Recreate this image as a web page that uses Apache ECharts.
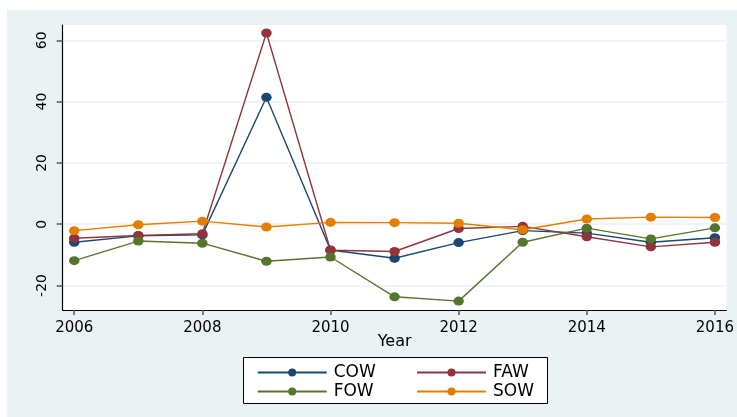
<!DOCTYPE html>
<html>
<head>
<meta charset="utf-8">
<title>Year trends</title>
<script src="https://cdn.jsdelivr.net/npm/echarts@6/dist/echarts.min.js"></script>
<style>
  html, body { margin: 0; padding: 0; background: #ffffff; }
  #main { width: 737px; height: 417px; }
</style>
</head>
<body>
<div id="main"></div>
<script>
// data
var years = [2006, 2007, 2008, 2009, 2010, 2011, 2012, 2013, 2014, 2015, 2016];
var cow = [-5.9, -3.8, -3.5, 41.4, -8.4, -11.1, -6.0, -2.1, -2.9, -5.9, -4.4];
var faw = [-4.6, -3.7, -3.1, 62.4, -8.5, -8.9, -1.4, -0.7, -4.1, -7.4, -5.9];
var fow = [-11.9, -5.5, -6.2, -12.1, -10.7, -23.7, -25.1, -5.9, -1.3, -4.8, -1.2];
var sow = [-2.1, -0.2, 1.0, -0.9, 0.6, 0.5, 0.3, -1.8, 1.7, 2.3, 2.2];
var xTicks = [2006, 2008, 2010, 2012, 2014, 2016];
var yTicks = [-20, 0, 20, 40, 60];

var chart = echarts.init(document.getElementById('main'));

function pairs(vals) {
    return years.map(function (y, i) { return [y, vals[i]]; });
}
function line(name, vals, color) {
    return {
        name: name,
        type: 'line',
        data: pairs(vals),
        symbol: 'circle',
        symbolSize: [10.5, 9],
        showAllSymbol: true,
        itemStyle: { color: color },
        lineStyle: { color: color, width: 1.4 },
        emphasis: { disabled: true },
        z: 3
    };
}

var font = 'DejaVu Sans';
var option = {
    backgroundColor: '#ffffff',
    animation: false,
    graphic: [
        // grey-blue outer panel
        { type: 'rect', z: -10, shape: { x: 7, y: 10, width: 730, height: 407 }, style: { fill: '#eaf2f3' } },
        // legend frame
        { type: 'rect', z: 1, shape: { x: 243.5, y: 357.5, width: 304, height: 46 }, style: { fill: '#ffffff', stroke: '#000000', lineWidth: 1 } }
    ],
    grid: { left: 62.7, right: 8.7, top: 25, bottom: 107, show: true, backgroundColor: '#ffffff', borderWidth: 0 },
    xAxis: {
        type: 'value',
        min: 2005.82,
        max: 2016.18,
        name: 'Year',
        nameLocation: 'middle',
        nameGap: 24,
        nameMoveOverlap: false,
        nameTextStyle: { fontFamily: font, fontSize: 16, color: '#000' },
        axisLine: { show: true, onZero: false, lineStyle: { color: '#000', width: 1.2 } },
        axisTick: { show: true, length: 5, customValues: xTicks, lineStyle: { color: '#555', width: 1.5 } },
        axisLabel: {
            customValues: xTicks, margin: 11, fontFamily: font, fontSize: 15, color: '#000',
            formatter: function (v) { return String(v); }
        },
        splitLine: { show: false }
    },
    yAxis: {
        type: 'value',
        min: -28,
        max: 65,
        axisLine: { show: true, onZero: false, lineStyle: { color: '#000', width: 1.2 } },
        axisTick: { show: true, length: 6, customValues: yTicks, lineStyle: { color: '#555', width: 1.5 } },
        axisLabel: { customValues: yTicks, rotate: 90, margin: 13, fontFamily: font, fontSize: 14, color: '#000' },
        splitLine: { show: true, lineStyle: { color: '#eaf2f3', width: 1.5 } }
    },
    legend: [{
        orient: 'vertical',
        left: 251.7,
        top: 359,
        itemWidth: 69,
        itemHeight: 10,
        itemGap: 2,
        data: ['COW', 'FOW'],
        textStyle: { fontFamily: font, fontSize: 17, color: '#000', padding: [0, 0, 0, 2] },
        selectedMode: false,
        z: 5
    }, {
        orient: 'vertical',
        left: 411,
        top: 359,
        itemWidth: 69,
        itemHeight: 10,
        itemGap: 2,
        data: ['FAW', 'SOW'],
        textStyle: { fontFamily: font, fontSize: 17, color: '#000', padding: [0, 0, 0, 2] },
        selectedMode: false,
        z: 5
    }],
    series: [
        line('COW', cow, '#1a476f'),
        line('FAW', faw, '#90353b'),
        line('FOW', fow, '#55752f'),
        line('SOW', sow, '#e37e00')
    ]
};
chart.setOption(option);
</script>
</body>
</html>
